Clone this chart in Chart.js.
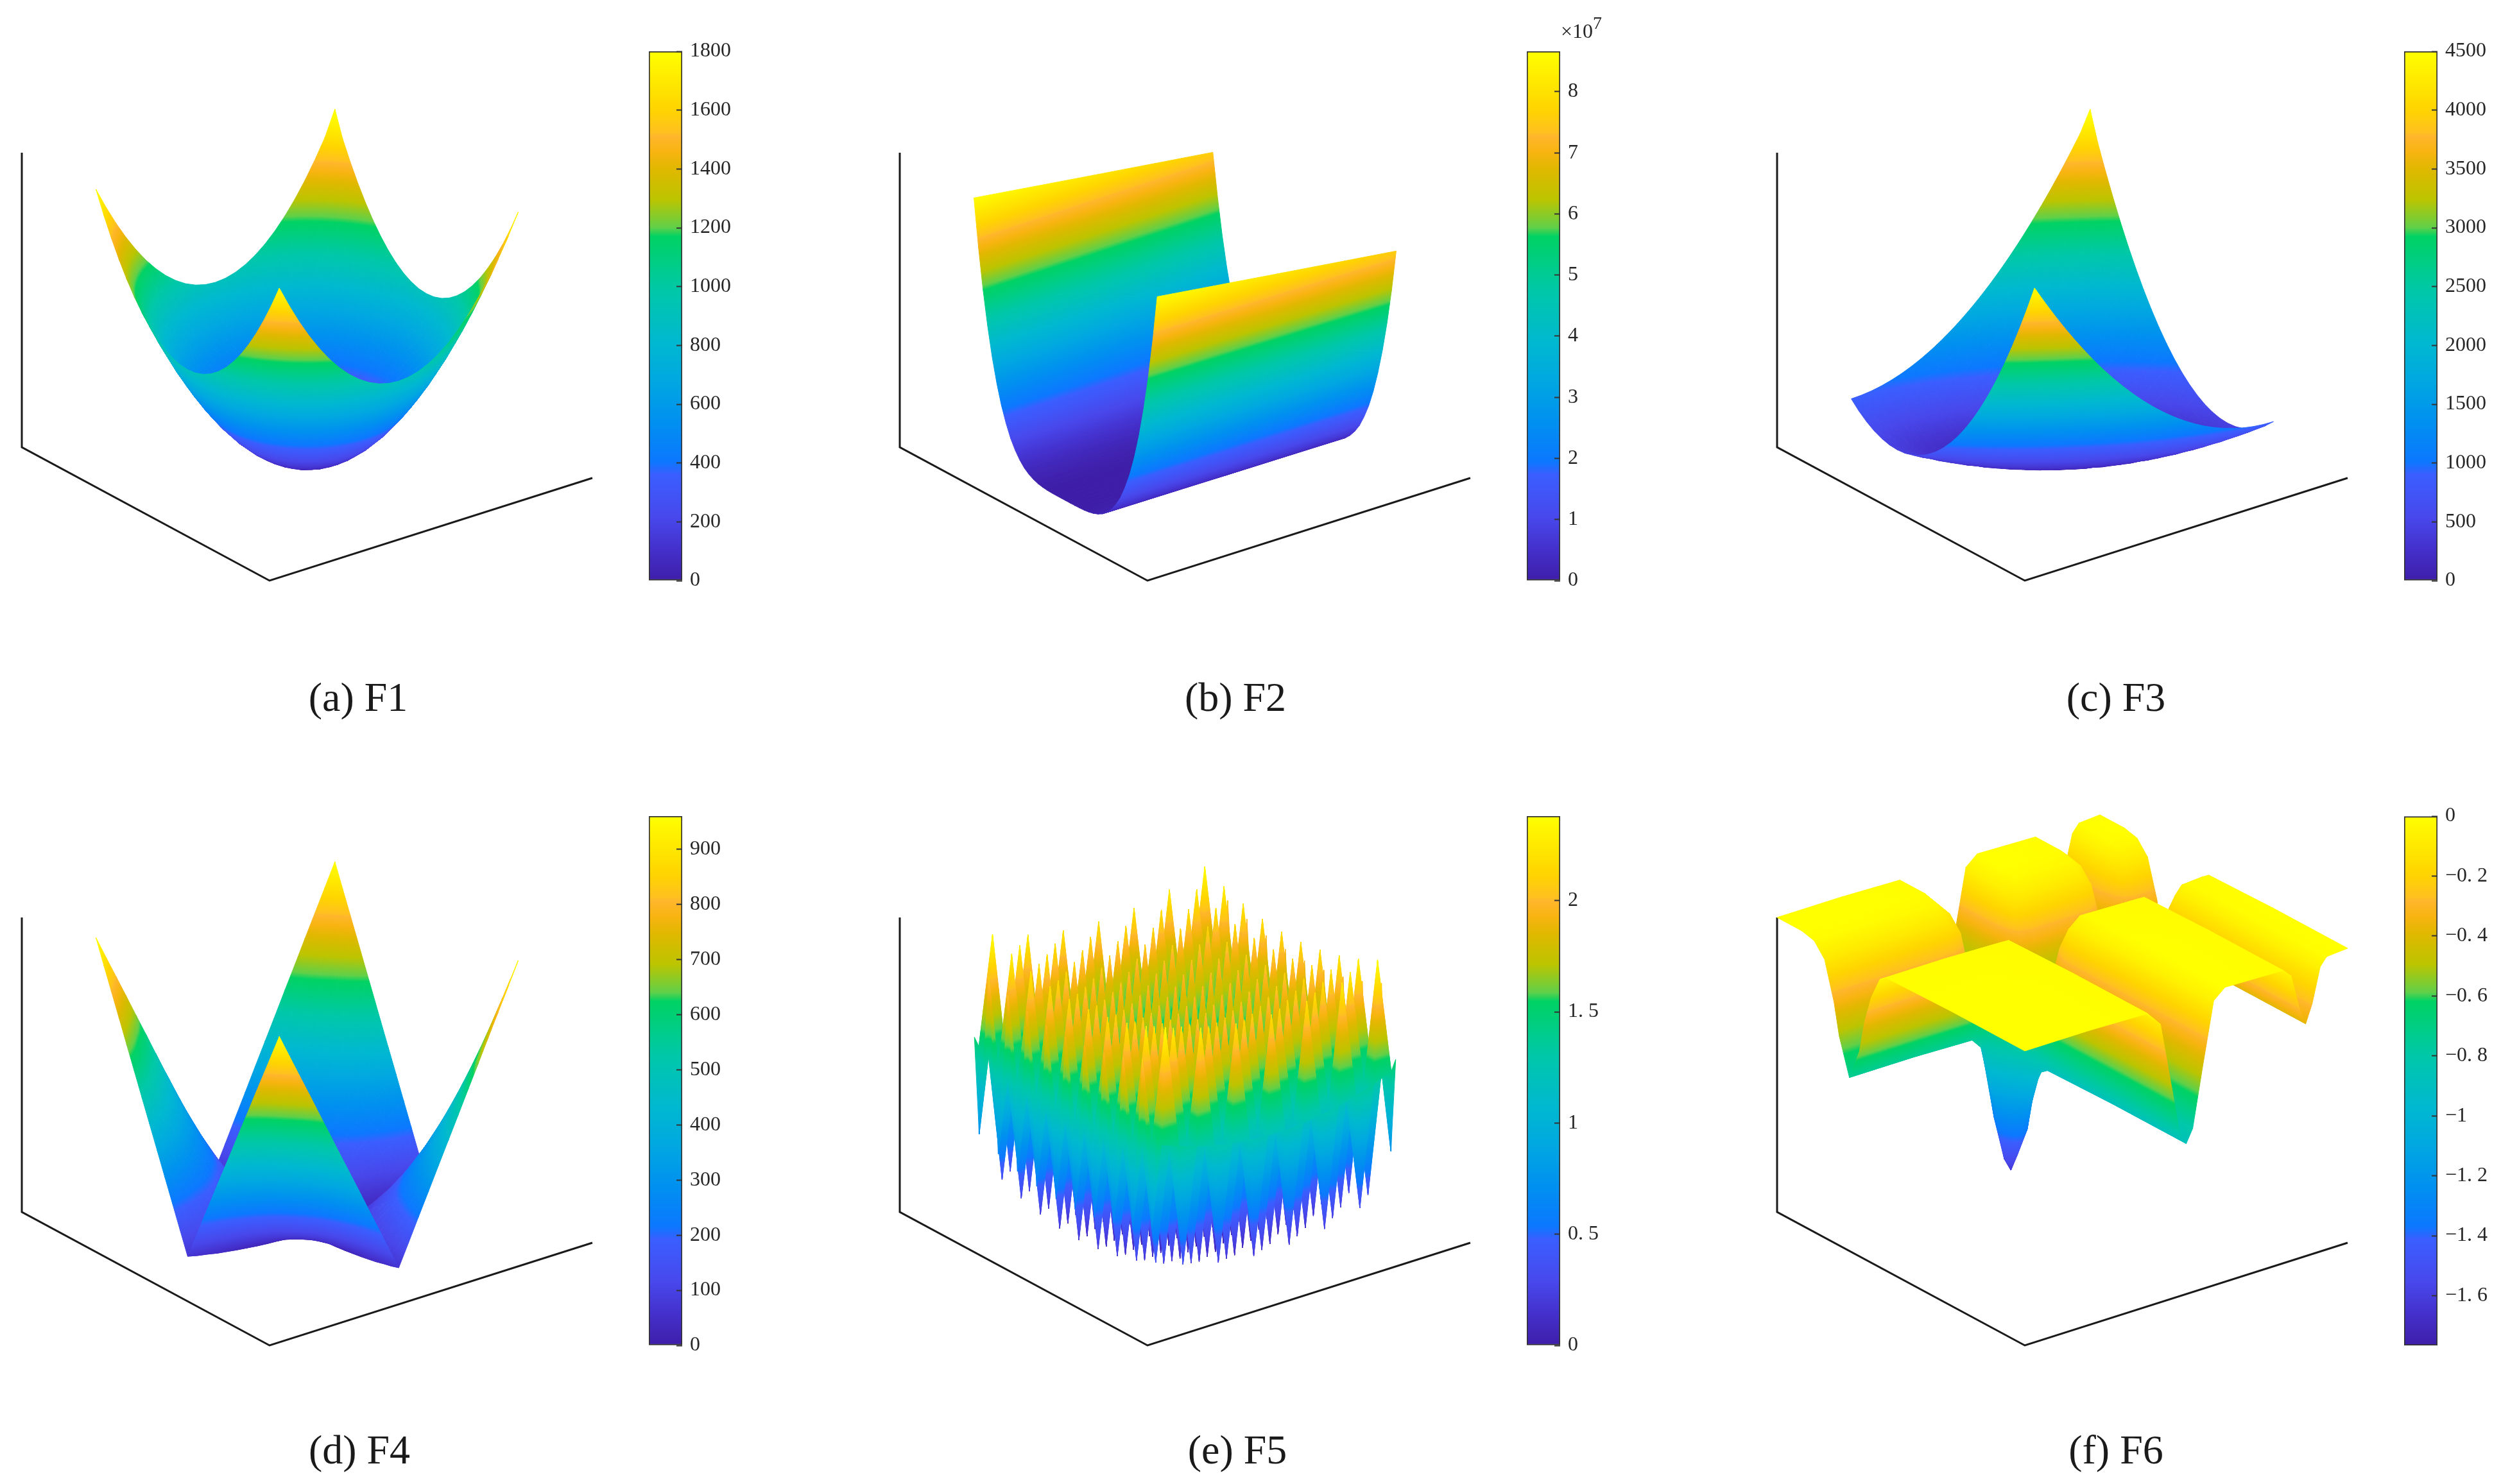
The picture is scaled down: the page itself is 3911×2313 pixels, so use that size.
<!DOCTYPE html>
<html>
<head>
<meta charset="utf-8">
<title>F1-F6 surfaces</title>
<script src="https://cdn.jsdelivr.net/npm/chart.js@4"></script>
<style>
  html, body { margin: 0; padding: 0; background: #fff; }
  #page { position: relative; width: 3911px; height: 2313px; overflow: hidden; background: #fff; }
  canvas { position: absolute; }
  .caption { position: absolute; font: 64px "Liberation Serif", serif; color: #1a1a1a; transform: translate(-50%, -50%); line-height: 1; white-space: nowrap; }
  .exponent { position: absolute; font: 32px "Liberation Serif", serif; color: #262626; white-space: nowrap; }
  .exponent sup { font-size: 28px; line-height: 0; position: relative; top: -2px; }
</style>
</head>
<body>
<div id="page"></div>
<script>
// ---- values ----
const captions = ['(a) F1', '(b) F2', '(c) F3', '(d) F4', '(e) F5', '(f) F6'];

const gridX = [-30,-27.5,-25,-22.5,-20,-17.5,-15,-12.5,-10,-7.5,-5,-2.5,0,2.5,5,7.5,10,12.5,15,17.5,20,22.5,25,27.5,30];

const f1Z = [
  [1800,1656,1525,1406,1300,1206,1125,1056,1000,956,925,906,900,906,925,956,1000,1056,1125,1206,1300,1406,1525,1656,1800],
  [1656,1513,1381,1263,1156,1063,981,913,856,813,781,763,756,763,781,813,856,913,981,1063,1156,1263,1381,1513,1656],
  [1525,1381,1250,1131,1025,931,850,781,725,681,650,631,625,631,650,681,725,781,850,931,1025,1131,1250,1381,1525],
  [1406,1263,1131,1013,906,813,731,663,606,563,531,513,506,513,531,563,606,663,731,813,906,1013,1131,1263,1406],
  [1300,1156,1025,906,800,706,625,556,500,456,425,406,400,406,425,456,500,556,625,706,800,906,1025,1156,1300],
  [1206,1063,931,813,706,613,531,463,406,363,331,313,306,313,331,363,406,463,531,613,706,813,931,1063,1206],
  [1125,981,850,731,625,531,450,381,325,281,250,231,225,231,250,281,325,381,450,531,625,731,850,981,1125],
  [1056,913,781,663,556,463,381,313,256,213,181,163,156,163,181,213,256,313,381,463,556,663,781,913,1056],
  [1000,856,725,606,500,406,325,256,200,156,125,106,100,106,125,156,200,256,325,406,500,606,725,856,1000],
  [956,813,681,563,456,363,281,213,156,113,81,63,56,63,81,113,156,213,281,363,456,563,681,813,956],
  [925,781,650,531,425,331,250,181,125,81,50,31,25,31,50,81,125,181,250,331,425,531,650,781,925],
  [906,763,631,513,406,313,231,163,106,63,31,13,6,13,31,63,106,163,231,313,406,513,631,763,906],
  [900,756,625,506,400,306,225,156,100,56,25,6,0,6,25,56,100,156,225,306,400,506,625,756,900],
  [906,763,631,513,406,313,231,163,106,63,31,13,6,13,31,63,106,163,231,313,406,513,631,763,906],
  [925,781,650,531,425,331,250,181,125,81,50,31,25,31,50,81,125,181,250,331,425,531,650,781,925],
  [956,813,681,563,456,363,281,213,156,113,81,63,56,63,81,113,156,213,281,363,456,563,681,813,956],
  [1000,856,725,606,500,406,325,256,200,156,125,106,100,106,125,156,200,256,325,406,500,606,725,856,1000],
  [1056,913,781,663,556,463,381,313,256,213,181,163,156,163,181,213,256,313,381,463,556,663,781,913,1056],
  [1125,981,850,731,625,531,450,381,325,281,250,231,225,231,250,281,325,381,450,531,625,731,850,981,1125],
  [1206,1063,931,813,706,613,531,463,406,363,331,313,306,313,331,363,406,463,531,613,706,813,931,1063,1206],
  [1300,1156,1025,906,800,706,625,556,500,456,425,406,400,406,425,456,500,556,625,706,800,906,1025,1156,1300],
  [1406,1263,1131,1013,906,813,731,663,606,563,531,513,506,513,531,563,606,663,731,813,906,1013,1131,1263,1406],
  [1525,1381,1250,1131,1025,931,850,781,725,681,650,631,625,631,650,681,725,781,850,931,1025,1131,1250,1381,1525],
  [1656,1513,1381,1263,1156,1063,981,913,856,813,781,763,756,763,781,813,856,913,981,1063,1156,1263,1381,1513,1656],
  [1800,1656,1525,1406,1300,1206,1125,1056,1000,956,925,906,900,906,925,956,1000,1056,1125,1206,1300,1406,1525,1656,1830]
];
const f1Ticks = [0, 200, 400, 600, 800, 1000, 1200, 1400, 1600, 1800];
const f1Labels = ['0', '200', '400', '600', '800', '1000', '1200', '1400', '1600', '1800'];

const f2X = [-30, 0, 30];
const f2Y = [-30,-28.5,-27,-25.5,-24,-22.5,-21,-19.5,-18,-16.5,-15,-13.5,-12,-10.5,-9,-7.5,-6,-4.5,-3,-1.5,0,1.5,3,4.5,6,7.5,9,10.5,12,13.5,15,16.5,18,19.5,21,22.5,24,25.5,27,28.5,30];
const f2Z = [
  [8.6,8.08,7.57],[7,6.58,6.16],[5.64,5.3,4.96],[4.49,4.22,3.95],[3.52,3.31,3.1],[2.72,2.56,2.39],[2.06,1.94,1.81],
  [1.54,1.45,1.36],[1.11,1.04,.98],[.79,.74,.7],[.54,.51,.48],[.35,.33,.31],[.22,.21,.19],[.13,.12,.11],
  [.07,.066,.06],[.034,.032,.03],[.014,.013,.012],[.004,.004,.004],[.001,.001,.001],[0,0,0],[0,0,0],
  [0,0,0],[.001,.001,.001],[.004,.004,.004],[.014,.013,.012],[.034,.032,.03],[.07,.066,.06],
  [.13,.12,.11],[.22,.21,.19],[.35,.33,.31],[.54,.51,.48],[.79,.74,.7],[1.11,1.04,.98],[1.54,1.45,1.36],
  [2.06,1.94,1.81],[2.72,2.56,2.39],[3.52,3.31,3.1],[4.49,4.22,3.95],[5.64,5.3,4.96],[7,6.58,6.16],[8.6,8.08,7.57]
];
const f2Ticks = [0, 1, 2, 3, 4, 5, 6, 7, 8];
const f2Labels = ['0', '1', '2', '3', '4', '5', '6', '7', '8'];

const f3Z = [
  [4500,4206,3925,3656,3400,3156,2925,2706,2500,2306,2125,1956,1800,1656,1525,1406,1300,1206,1125,1056,1000,956,925,906,900],
  [4062,3781,3512,3256,3012,2781,2562,2356,2162,1981,1812,1656,1512,1381,1262,1156,1062,981,912,856,812,781,762,756,762],
  [3650,3381,3125,2881,2650,2431,2225,2031,1850,1681,1525,1381,1250,1131,1025,931,850,781,725,681,650,631,625,631,650],
  [3262,3006,2762,2531,2312,2106,1912,1731,1562,1406,1262,1131,1012,906,812,731,662,606,562,531,512,506,512,531,562],
  [2900,2656,2425,2206,2000,1806,1625,1456,1300,1156,1025,906,800,706,625,556,500,456,425,406,400,406,425,456,500],
  [2562,2331,2112,1906,1712,1531,1362,1206,1062,931,812,706,612,531,462,406,362,331,312,306,312,331,362,406,462],
  [2250,2031,1825,1631,1450,1281,1125,981,850,731,625,531,450,381,325,281,250,231,225,231,250,281,325,381,450],
  [1962,1756,1562,1381,1212,1056,912,781,662,556,462,381,312,256,212,181,162,156,162,181,212,256,312,381,462],
  [1700,1506,1325,1156,1000,856,725,606,500,406,325,256,200,156,125,106,100,106,125,156,200,256,325,406,500],
  [1462,1281,1112,956,812,681,562,456,362,281,212,156,112,81,62,56,62,81,112,156,212,281,362,456,562],
  [1250,1081,925,781,650,531,425,331,250,181,125,81,50,31,25,31,50,81,125,181,250,331,425,531,650],
  [1062,906,762,631,512,406,312,231,162,106,62,31,12,6,12,31,62,106,162,231,312,406,512,631,762],
  [900,756,625,506,400,306,225,156,100,56,25,6,0,6,25,56,100,156,225,306,400,506,625,756,900],
  [762,631,512,406,312,231,162,106,62,31,12,6,12,31,62,106,162,231,312,406,512,631,762,906,1062],
  [650,531,425,331,250,181,125,81,50,31,25,31,50,81,125,181,250,331,425,531,650,781,925,1081,1250],
  [562,456,362,281,212,156,112,81,62,56,62,81,112,156,212,281,362,456,562,681,812,956,1112,1281,1462],
  [500,406,325,256,200,156,125,106,100,106,125,156,200,256,325,406,500,606,725,856,1000,1156,1325,1506,1700],
  [462,381,312,256,212,181,162,156,162,181,212,256,312,381,462,556,662,781,912,1056,1212,1381,1562,1756,1962],
  [450,381,325,281,250,231,225,231,250,281,325,381,450,531,625,731,850,981,1125,1281,1450,1631,1825,2031,2250],
  [462,406,362,331,312,306,312,331,362,406,462,531,612,706,812,931,1062,1206,1362,1531,1712,1906,2112,2331,2562],
  [500,456,425,406,400,406,425,456,500,556,625,706,800,906,1025,1156,1300,1456,1625,1806,2000,2206,2425,2656,2900],
  [562,531,512,506,512,531,562,606,662,731,812,906,1012,1131,1262,1406,1562,1731,1912,2106,2312,2531,2762,3006,3262],
  [650,631,625,631,650,681,725,781,850,931,1025,1131,1250,1381,1525,1681,1850,2031,2225,2431,2650,2881,3125,3381,3650],
  [762,756,762,781,812,856,912,981,1062,1156,1262,1381,1512,1656,1812,1981,2162,2356,2562,2781,3012,3256,3512,3781,4062],
  [900,906,925,956,1000,1056,1125,1206,1300,1406,1525,1656,1800,1956,2125,2306,2500,2706,2925,3156,3400,3656,3925,4206,4570]
];
const f3Ticks = [0, 500, 1000, 1500, 2000, 2500, 3000, 3500, 4000, 4500];
const f3Labels = ['0', '500', '1000', '1500', '2000', '2500', '3000', '3500', '4000', '4500'];

const f4Z = [
  [960,885,811,737,662,588,513,439,365,290,216,141,67,141,216,290,365,439,513,588,662,737,811,885,960],
  [885,809,741,673,605,536,468,400,332,264,195,127,59,127,195,264,332,400,468,536,605,673,741,809,885],
  [811,741,673,611,549,487,425,363,301,239,177,115,53,115,177,239,301,363,425,487,549,611,673,741,811],
  [737,673,611,548,492,437,381,325,269,213,158,102,46,102,158,213,269,325,381,437,492,548,611,673,737],
  [662,605,549,492,438,388,339,289,239,190,140,91,41,91,140,190,239,289,339,388,438,492,549,605,662],
  [588,536,487,437,388,340,296,253,210,166,123,79,36,79,123,166,210,253,296,340,388,437,487,536,588],
  [513,468,425,381,339,296,255,218,181,144,106,69,32,69,106,144,181,218,255,296,339,381,425,468,513],
  [439,400,363,325,289,253,218,183,152,121,90,59,28,59,90,121,152,183,218,253,289,325,363,400,439],
  [365,332,301,269,239,210,181,152,124,99,75,50,25,50,75,99,124,152,181,210,239,269,301,332,365],
  [290,264,239,213,190,166,144,121,99,79,60,42,23,42,60,79,99,121,144,166,190,213,239,264,290],
  [216,195,177,158,140,123,106,90,75,60,46,33,21,33,46,60,75,90,106,123,140,158,177,195,216],
  [141,127,115,102,91,79,69,59,50,42,33,26,20,26,33,42,50,59,69,79,91,102,115,127,141],
  [67,59,53,46,41,36,32,28,25,23,21,20,20,20,21,23,25,28,32,36,41,46,53,59,67],
  [141,127,115,102,91,79,69,59,50,42,33,26,20,26,33,42,50,59,69,79,91,102,115,127,141],
  [216,195,177,158,140,123,106,90,75,60,46,33,21,33,46,60,75,90,106,123,140,158,177,195,216],
  [290,264,239,213,190,166,144,121,99,79,60,42,23,42,60,79,99,121,144,166,190,213,239,264,290],
  [365,332,301,269,239,210,181,152,124,99,75,50,25,50,75,99,124,152,181,210,239,269,301,332,365],
  [439,400,363,325,289,253,218,183,152,121,90,59,28,59,90,121,152,183,218,253,289,325,363,400,439],
  [513,468,425,381,339,296,255,218,181,144,106,69,32,69,106,144,181,218,255,296,339,381,425,468,513],
  [588,536,487,437,388,340,296,253,210,166,123,79,36,79,123,166,210,253,296,340,388,437,487,536,588],
  [662,605,549,492,438,388,339,289,239,190,140,91,41,91,140,190,239,289,339,388,438,492,549,605,662],
  [737,673,611,548,492,437,381,325,269,213,158,102,46,102,158,213,269,325,381,437,492,548,611,673,737],
  [811,741,673,611,549,487,425,363,301,239,177,115,53,115,177,239,301,363,425,487,549,611,673,741,811],
  [885,809,741,673,605,536,468,400,332,264,195,127,59,127,195,264,332,400,468,536,605,673,741,809,885],
  [960,885,811,737,662,588,513,439,365,290,216,141,67,141,216,290,365,439,513,588,662,737,811,885,960]
];
const f4Ticks = [0, 100, 200, 300, 400, 500, 600, 700, 800, 900];
const f4Labels = ['0', '100', '200', '300', '400', '500', '600', '700', '800', '900'];

// F5 is stored in hundredths, one row per x node
const f5X = [-30,-28.87,-26.66,-24.43,-22.21,-19.99,-17.77,-15.55,-13.33,-11.11,-8.89,-6.66,-4.44,-2.22,0,2.22,4.44,6.66,8.89,11.11,13.33,15.55,17.77,19.99,22.21,24.43,26.66,28.87,30];
const f5Y = [-29.85,-28.27,-26.7,-25.13,-23.56,-21.99,-20.42,-18.85,-17.28,-15.71,-14.14,-12.57,-11,-9.42,-7.85,-6.28,-4.71,-3.14,-1.57,0,1.57,3.14,4.71,6.28,7.85,9.42,11,12.57,14.14,15.71,17.28,18.85,20.42,21.99,23.56,25.13,26.7,28.27,29.85];
const f5Z = [
  [152,72,141,210,137,64,133,203,130,58,128,198,126,54,125,195,124,52,123,194,123,52,124,195,125,54,126,198,128,58,130,203,133,64,137,210,141,72,152],
  [143,141,139,137,135,133,131,130,128,127,126,125,124,123,123,122,122,121,121,121,121,121,122,122,123,123,124,125,126,127,128,130,131,133,135,137,139,141,143],
  [140,238,136,34,132,230,128,27,125,224,123,22,121,220,120,19,119,218,118,18,118,218,119,19,120,220,121,22,123,224,125,27,128,230,132,34,136,238,140],
  [137,135,133,131,129,127,125,124,122,121,120,119,118,117,117,116,116,115,115,115,115,115,116,116,117,117,118,119,120,121,122,124,125,127,129,131,133,135,137],
  [134,32,130,228,126,24,122,221,119,18,117,216,115,14,114,213,113,12,112,212,112,12,113,213,114,14,115,216,117,18,119,221,122,24,126,228,130,32,134],
  [132,130,128,126,124,122,120,119,117,116,115,114,113,112,112,111,111,110,110,110,110,110,111,111,112,112,113,114,115,116,117,119,120,122,124,126,128,130,132],
  [130,228,126,24,122,220,118,17,115,214,113,12,111,210,110,9,109,208,108,8,108,208,109,9,110,210,111,12,113,214,115,17,118,220,122,24,126,228,130],
  [128,126,124,122,120,118,116,115,113,112,111,110,109,108,108,107,107,106,106,106,106,106,107,107,108,108,109,110,111,112,113,115,116,118,120,122,124,126,128],
  [126,24,122,220,118,16,114,213,111,10,109,208,107,6,106,205,105,4,104,204,104,4,105,205,106,6,107,208,109,10,111,213,114,16,118,220,122,24,126],
  [125,123,121,119,117,115,113,112,110,109,108,107,106,105,105,104,104,103,103,103,103,103,104,104,105,105,106,107,108,109,110,112,113,115,117,119,121,123,125],
  [124,222,120,18,116,214,112,11,109,208,107,6,105,204,104,3,103,202,102,2,102,202,103,3,104,204,105,6,107,208,109,11,112,214,116,18,120,222,124],
  [123,121,119,117,115,113,111,110,108,107,106,105,104,103,103,102,102,101,101,101,101,101,102,102,103,103,104,105,106,107,108,110,111,113,115,117,119,121,123],
  [122,20,118,216,114,12,110,209,107,6,105,204,103,2,102,201,101,0,100,200,100,0,101,201,102,2,103,204,105,6,107,209,110,12,114,216,118,20,122],
  [122,120,118,116,114,112,110,109,107,106,105,104,103,102,102,101,101,100,100,100,100,100,101,101,102,102,103,104,105,106,107,109,110,112,114,116,118,120,122],
  [122,220,118,16,114,212,110,9,107,206,105,4,103,202,102,1,101,200,100,0,100,200,101,1,102,202,103,4,105,206,107,9,110,212,114,16,118,220,122],
  [122,120,118,116,114,112,110,109,107,106,105,104,103,102,102,101,101,100,100,100,100,100,101,101,102,102,103,104,105,106,107,109,110,112,114,116,118,120,122],
  [122,20,118,216,114,12,110,209,107,6,105,204,103,2,102,201,101,0,100,200,100,0,101,201,102,2,103,204,105,6,107,209,110,12,114,216,118,20,122],
  [123,121,119,117,115,113,111,110,108,107,106,105,104,103,103,102,102,101,101,101,101,101,102,102,103,103,104,105,106,107,108,110,111,113,115,117,119,121,123],
  [124,222,120,18,116,214,112,11,109,208,107,6,105,204,104,3,103,202,102,2,102,202,103,3,104,204,105,6,107,208,109,11,112,214,116,18,120,222,124],
  [125,123,121,119,117,115,113,112,110,109,108,107,106,105,105,104,104,103,103,103,103,103,104,104,105,105,106,107,108,109,110,112,113,115,117,119,121,123,125],
  [126,24,122,220,118,16,114,213,111,10,109,208,107,6,106,205,105,4,104,204,104,4,105,205,106,6,107,208,109,10,111,213,114,16,118,220,122,24,126],
  [128,126,124,122,120,118,116,115,113,112,111,110,109,108,108,107,107,106,106,106,106,106,107,107,108,108,109,110,111,112,113,115,116,118,120,122,124,126,128],
  [130,228,126,24,122,220,118,17,115,214,113,12,111,210,110,9,109,208,108,8,108,208,109,9,110,210,111,12,113,214,115,17,118,220,122,24,126,228,130],
  [132,130,128,126,124,122,120,119,117,116,115,114,113,112,112,111,111,110,110,110,110,110,111,111,112,112,113,114,115,116,117,119,120,122,124,126,128,130,132],
  [134,32,130,228,126,24,122,221,119,18,117,216,115,14,114,213,113,12,112,212,112,12,113,213,114,14,115,216,117,18,119,221,122,24,126,228,130,32,134],
  [137,135,133,131,129,127,125,124,122,121,120,119,118,117,117,116,116,115,115,115,115,115,116,116,117,117,118,119,120,121,122,124,125,127,129,131,133,135,137],
  [140,238,136,34,132,230,128,27,125,224,123,22,121,220,120,19,119,218,118,18,118,218,119,19,120,220,121,22,123,224,125,27,128,230,132,34,136,238,140],
  [143,141,139,137,135,133,131,130,128,127,126,125,124,123,123,122,122,121,121,121,121,121,122,122,123,123,124,125,126,127,128,130,131,133,135,137,139,141,143],
  [152,72,141,210,137,64,133,203,130,58,128,198,126,54,125,195,124,52,123,194,123,52,124,195,125,54,126,198,128,58,130,203,133,64,137,210,141,72,152]
];
const f5Ticks = [0, 0.5, 1, 1.5, 2];
const f5Labels = ['0', '0. 5', '1', '1. 5', '2'];

const f6X = [0,.2,.38,.42,.45,.48,.5,.52,.55,.585,.62,.8,.825,.85,.87,.89,.915,.935,1];
const f6Y = [0,.3,.56,.585,.62,.648,.668,.708,.749,.77,.808,.85,.9,1];
const f6Z = [
  [0,0,-.01,-.1,-.45,-.8,-.88,-.8,-.45,-.06,0,-.01,-.06,-.27,-.38,-.27,-.06,-.01,0],
  [0,0,-.01,-.1,-.45,-.8,-.88,-.8,-.45,-.06,0,-.01,-.06,-.27,-.38,-.27,-.06,-.01,0],
  [-.01,-.01,-.02,-.11,-.46,-.81,-.89,-.81,-.46,-.07,-.01,-.02,-.07,-.28,-.39,-.28,-.07,-.02,-.01],
  [-.04,-.04,-.05,-.14,-.49,-.84,-.92,-.84,-.49,-.1,-.04,-.05,-.1,-.31,-.42,-.31,-.1,-.05,-.04],
  [-.18,-.18,-.19,-.28,-.63,-.98,-1.06,-.98,-.63,-.24,-.18,-.19,-.24,-.45,-.56,-.45,-.24,-.19,-.18],
  [-.36,-.36,-.37,-.46,-.81,-1.16,-1.24,-1.16,-.81,-.42,-.36,-.37,-.42,-.63,-.74,-.63,-.42,-.37,-.36],
  [-.55,-.55,-.56,-.65,-1,-1.35,-1.43,-1.35,-1,-.61,-.55,-.56,-.61,-.82,-.93,-.82,-.61,-.56,-.55],
  [-.74,-.74,-.75,-.84,-1.19,-1.54,-1.62,-1.54,-1.19,-.8,-.74,-.75,-.8,-1.01,-1.12,-1.01,-.8,-.75,-.74],
  [-.52,-.52,-.53,-.62,-.97,-1.32,-1.4,-1.32,-.97,-.58,-.52,-.53,-.58,-.79,-.9,-.79,-.58,-.53,-.52],
  [-.33,-.33,-.34,-.43,-.78,-1.13,-1.21,-1.13,-.78,-.39,-.33,-.34,-.39,-.6,-.71,-.6,-.39,-.34,-.33],
  [-.1,-.1,-.11,-.2,-.55,-.9,-.98,-.9,-.55,-.16,-.1,-.11,-.16,-.37,-.48,-.37,-.16,-.11,-.1],
  [-.02,-.02,-.03,-.12,-.47,-.82,-.9,-.82,-.47,-.08,-.02,-.03,-.08,-.29,-.4,-.29,-.08,-.03,-.02],
  [0,0,-.01,-.1,-.45,-.8,-.88,-.8,-.45,-.06,0,-.01,-.06,-.27,-.38,-.27,-.06,-.01,0],
  [0,0,-.01,-.1,-.45,-.8,-.88,-.8,-.45,-.06,0,-.01,-.06,-.27,-.38,-.27,-.06,-.01,0]
];
const f6Ticks = [-1.6, -1.4, -1.2, -1, -0.8, -0.6, -0.4, -0.2, 0];
const f6Labels = ['\u22121. 6', '\u22121. 4', '\u22121. 2', '\u22121', '\u22120. 8', '\u22120. 6', '\u22120. 4', '\u22120. 2', '0'];

// colormap stops as seen on the colour bars
const cmapPos = [0,.06,.12,.2,.225,.3,.38,.45,.55,.63,.65,.667,.72,.778,.81,.84,.846,.89,1];
const cmapHex = ['#3e1ea8','#4430cc','#4848ec','#3a5eff','#0c78ff','#0090f0','#00a8e0','#00b8d0','#00c8a8','#00d070','#00d264','#60d048','#bcc400','#e0b800','#f8b410','#ffb62c','#ffc020','#ffd400','#ffff00'];

// ---- layout, in page pixels ----
const BOX = { ox: 420, oy: 905, ax: 503, ay: -160, by: -208, bx: -386, h: 459 };
const WIDE = [-40.54, 40.54];
const panels = [
  { x: gridX, y: gridX, z: f1Z, xLim: WIDE, yLim: WIDE, zLim: [0, 2025], range: [0, 1800], ticks: f1Ticks, labels: f1Labels, left: 0, top: 0, capX: 558, capY: 1087 },
  { x: f2X, y: f2Y, z: f2Z, xLim: WIDE, yLim: WIDE, zLim: [0, 10], range: [0, 8.66], ticks: f2Ticks, labels: f2Labels, left: 1368, top: 0, capX: 1925, capY: 1087 },
  { x: gridX, y: gridX, z: f3Z, xLim: WIDE, yLim: WIDE, zLim: [0, 5060], range: [0, 4500], ticks: f3Ticks, labels: f3Labels, left: 2735, top: 0, capX: 3297, capY: 1087 },
  { x: gridX, y: gridX, z: f4Z, xLim: WIDE, yLim: WIDE, zLim: [37, 1014], range: [0, 960], ticks: f4Ticks, labels: f4Labels, left: 0, top: 1192, capX: 560, capY: 2260 },
  { x: f5X, y: f5Y, z: f5Z, unit: 0.01, rowsAlongX: true, xLim: WIDE, yLim: WIDE, zLim: [0, 2.5], range: [0, 2.38], ticks: f5Ticks, labels: f5Labels, left: 1368, top: 1192, capX: 1928, capY: 2260 },
  { x: f6X, y: f6Y, z: f6Z, xLim: [0, 1], yLim: [0, 1], zLim: [-1.8, 0], range: [-1.766, 0], ticks: f6Ticks, labels: f6Labels, left: 2735, top: 1192, capX: 3297, capY: 2260 }
];

const page = document.getElementById('page');
const stops = cmapHex.map(h => [parseInt(h.slice(1, 3), 16), parseInt(h.slice(3, 5), 16), parseInt(h.slice(5, 7), 16)]);

// colour at t in 0..1
function colorAt(t) {
  t = Math.min(1, Math.max(0, t));
  let i = 0;
  while (i < cmapPos.length - 2 && t > cmapPos[i + 1]) i++;
  const f = (t - cmapPos[i]) / (cmapPos[i + 1] - cmapPos[i]);
  const c = stops[i].map((v, k) => Math.round(v + (stops[i + 1][k] - v) * f));
  return `rgb(${c[0]},${c[1]},${c[2]})`;
}

function addCanvas(left, top, width, height) {
  const c = document.createElement('canvas');
  c.width = width;
  c.height = height;
  c.style.left = left + 'px';
  c.style.top = top + 'px';
  c.style.width = width + 'px';
  c.style.height = height + 'px';
  page.appendChild(c);
  return c;
}

// gradient following the colour value across one triangle
function triangleFill(ctx, a, b, c) {
  const low = [a, b, c].reduce((m, p) => (p.t < m.t ? p : m));
  const top = [a, b, c].reduce((m, p) => (p.t > m.t ? p : m));
  const det = (b.x - a.x) * (c.y - a.y) - (c.x - a.x) * (b.y - a.y);
  if (top.t - low.t < 0.002 || Math.abs(det) < 1e-6) return colorAt((a.t + b.t + c.t) / 3);
  const gx = ((b.t - a.t) * (c.y - a.y) - (c.t - a.t) * (b.y - a.y)) / det;
  const gy = ((b.x - a.x) * (c.t - a.t) - (c.x - a.x) * (b.t - a.t)) / det;
  const k = (top.t - low.t) / (gx * gx + gy * gy);
  const grad = ctx.createLinearGradient(low.x, low.y, low.x + gx * k, low.y + gy * k);
  grad.addColorStop(0, colorAt(low.t));
  cmapPos.forEach(s => {
    if (s > low.t && s < top.t) grad.addColorStop((s - low.t) / (top.t - low.t), colorAt(s));
  });
  grad.addColorStop(1, colorAt(top.t));
  return grad;
}

function drawSurface(p) {
  const W = 960, H = 960;
  const canvas = addCanvas(p.left, p.top, W, H);
  const ctx = canvas.getContext('2d');
  const unit = p.unit || 1;
  const zAt = (ix, iy) => (p.rowsAlongX ? p.z[ix][iy] : p.z[iy][ix]) * unit;

  const vertex = (ix, iy) => {
    const u = (p.x[ix] - p.xLim[0]) / (p.xLim[1] - p.xLim[0]);
    const v = (p.y[iy] - p.yLim[0]) / (p.yLim[1] - p.yLim[0]);
    const z = zAt(ix, iy);
    const w = (z - p.zLim[0]) / (p.zLim[1] - p.zLim[0]);
    return {
      x: BOX.ox + u * BOX.ax + v * BOX.bx,
      y: BOX.oy + u * BOX.ay + v * BOX.by - w * BOX.h,
      t: (z - p.range[0]) / (p.range[1] - p.range[0]),
      z
    };
  };

  // cells run from the front corner to the back corner, chart.js paints the first dataset last
  const tris = [];
  for (let ix = 0; ix < p.x.length - 1; ix++) {
    for (let iy = 0; iy < p.y.length - 1; iy++) {
      const a = vertex(ix, iy), b = vertex(ix + 1, iy), c = vertex(ix + 1, iy + 1), d = vertex(ix, iy + 1);
      // split each cell along the diagonal with the larger drop, keeps spikes round
      if (Math.abs(a.z - c.z) >= Math.abs(b.z - d.z)) {
        tris.push([a, b, c], [a, c, d]);
      } else {
        tris.push([a, b, d], [b, c, d]);
      }
    }
  }

  const datasets = tris.map(([a, b, c]) => {
    const fillStyle = triangleFill(ctx, a, b, c);
    return {
      data: [a, b, c, a].map(q => ({ x: q.x, y: q.y })),
      showLine: true,
      fill: 'shape',
      pointRadius: 0,
      tension: 0,
      borderWidth: 1,
      borderJoinStyle: 'round',
      backgroundColor: fillStyle,
      borderColor: fillStyle
    };
  });

  // the three axis lines of the box, under the surface
  const cx = BOX.ox + BOX.bx, cy = BOX.oy + BOX.by;
  datasets.push({
    data: [
      { x: cx, y: cy - BOX.h }, { x: cx, y: cy }, { x: BOX.ox, y: BOX.oy },
      { x: BOX.ox + BOX.ax, y: BOX.oy + BOX.ay }
    ],
    showLine: true,
    fill: false,
    pointRadius: 0,
    borderWidth: 3,
    borderColor: '#1a1a1a'
  });

  new Chart(canvas, {
    type: 'scatter',
    data: { datasets },
    options: {
      responsive: false,
      animation: false,
      events: [],
      layout: { padding: 0 },
      plugins: { legend: { display: false }, tooltip: { enabled: false } },
      scales: {
        x: { type: 'linear', display: false, min: 0, max: W },
        y: { type: 'linear', display: false, reverse: true, min: 0, max: H }
      }
    }
  });
}

function drawColorbar(p) {
  const barW = 52, scaleW = 100, barH = 825, pad = 20;
  const canvas = addCanvas(p.left + 1011 - 2, p.top + 80 - pad, 2 + barW + scaleW, barH + pad * 2);
  new Chart(canvas, {
    type: 'bar',
    data: {
      labels: [''],
      datasets: [{
        data: [p.range],
        barPercentage: 1,
        categoryPercentage: 1,
        borderWidth: 2,
        borderColor: '#333',
        borderSkipped: false,
        backgroundColor: c => {
          const area = c.chart.chartArea;
          if (!area) return '#fff';
          const g = c.chart.ctx.createLinearGradient(0, area.bottom, 0, area.top);
          cmapPos.forEach((s, i) => g.addColorStop(s, cmapHex[i]));
          return g;
        }
      }]
    },
    options: {
      responsive: false,
      animation: false,
      events: [],
      layout: { padding: { left: 2, top: pad, bottom: pad, right: 0 } },
      plugins: { legend: { display: false }, tooltip: { enabled: false } },
      scales: {
        x: { display: false },
        y: {
          position: 'right',
          min: p.range[0],
          max: p.range[1],
          afterFit: s => { s.width = scaleW; s.paddingTop = 0; s.paddingBottom = 0; },
          afterBuildTicks: s => { s.ticks = p.ticks.map(value => ({ value })); },
          border: { display: false },
          grid: { drawOnChartArea: false, tickLength: -9, tickWidth: 2, tickColor: '#333', z: 2 },
          ticks: {
            autoSkip: false,
            padding: 21,
            maxRotation: 0,
            color: '#262626',
            font: { family: '"Liberation Serif", serif', size: 32 },
            callback: (v, i) => p.labels[i]
          }
        }
      }
    }
  });
}

panels.forEach((p, i) => {
  drawSurface(p);
  drawColorbar(p);
  const cap = document.createElement('div');
  cap.className = 'caption';
  cap.textContent = captions[i];
  cap.style.left = p.capX + 'px';
  cap.style.top = p.capY + 'px';
  page.appendChild(cap);
});

const exp = document.createElement('div');
exp.className = 'exponent';
exp.innerHTML = '\u00d710<sup>7</sup>';
exp.style.left = '2432px';
exp.style.top = '30px';
page.appendChild(exp);
</script>
</body>
</html>
